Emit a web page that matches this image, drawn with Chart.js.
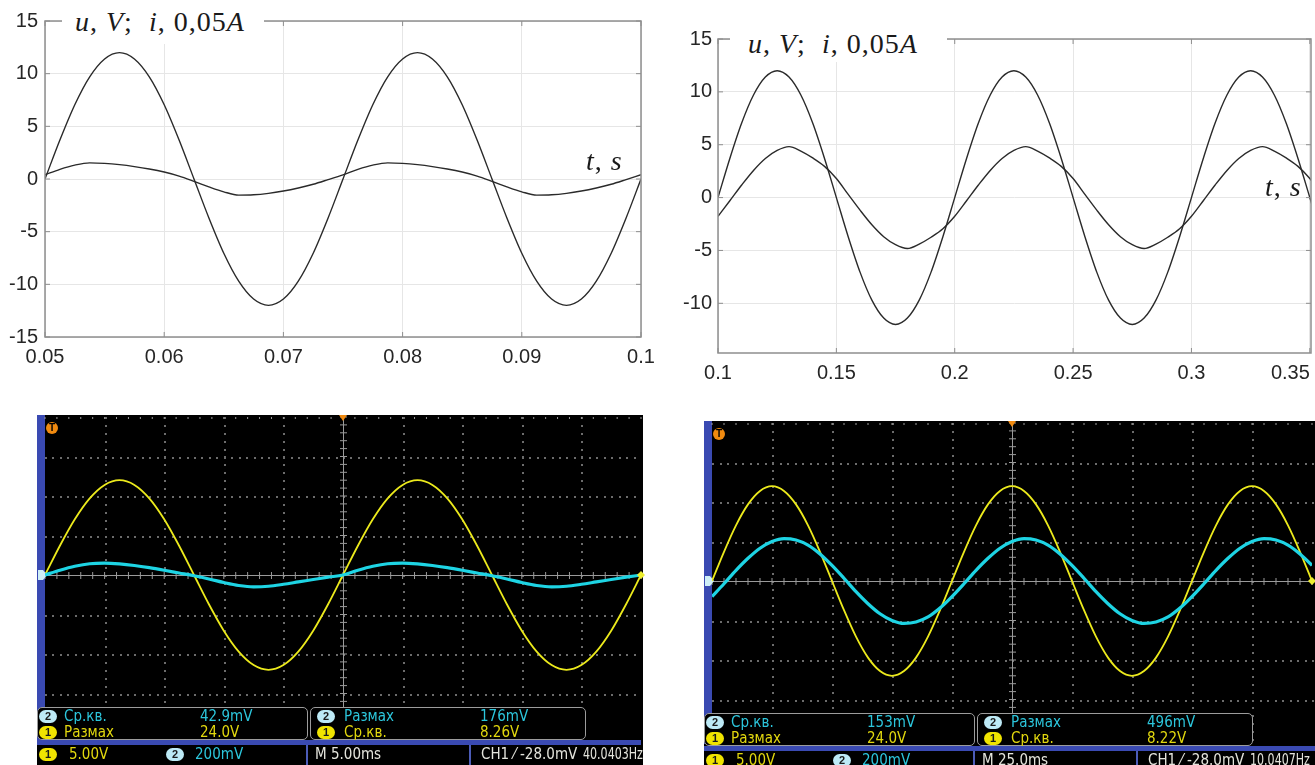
<!DOCTYPE html>
<html>
<head>
<meta charset="utf-8">
<script src="https://cdn.jsdelivr.net/npm/chart.js@4.4.1/dist/chart.umd.min.js"></script>
<style>
  html, body { margin: 0; padding: 0; background: #fff; }
  body { position: relative; width: 1315px; height: 765px; overflow: hidden; }
  canvas { position: absolute; }
  .mask { position: absolute; background: #fff; }
  .lbl { position: absolute; font-family: "Liberation Serif", "Times New Roman", serif; font-size: 28px; line-height: 28px; color: #1a1a1a; white-space: nowrap; letter-spacing: 1px; }
  .box { position: absolute; box-sizing: border-box; border: 1px solid #9c9c9c; border-radius: 5px; background: #000; }
  .bar { position: absolute; background: #3a4ab2; }
  .sep { position: absolute; background: #4c5cb8; }
  .rd, .ft { position: absolute; white-space: nowrap; font-family: "Liberation Sans Narrow", "Arial Narrow", "DejaVu Sans Condensed", sans-serif; }
  .rd { font-size: 15px; line-height: 16px; }
  .ft { font-size: 15px; line-height: 18px; }
  .hz { transform: scaleX(0.82); transform-origin: left center; }
  .bd { position: absolute; width: 18px; height: 13px; border-radius: 7px; font: bold 11px/13px "Liberation Sans", Arial, sans-serif; color: #1a1a1a; text-align: center; }
  .c1 { background: #f0e400; }
  .c2 { background: #bdeaf6; }
  .ty { color: #e2d80e; }
  .tc { color: #2cc6dc; }
  .tw { color: #e4e4dc; }
</style>
</head>
<body>
<canvas id="plotA" width="660" height="385" style="left:0;top:0"></canvas>
<canvas id="plotB" width="655" height="395" style="left:660px;top:0"></canvas>
<canvas id="scopeA" width="660" height="365" style="left:0;top:400px"></canvas>
<canvas id="scopeB" width="625" height="365" style="left:690px;top:400px"></canvas>

<div class="mask" style="left:62px;top:0;width:202px;height:44px"></div>
<div class="lbl" style="left:75px;top:8px"><i>u</i>, <i>V</i>;&nbsp; <i>i</i>, 0,05<i>A</i></div>
<div class="lbl" style="left:586px;top:147px"><i>t</i>, <i>s</i></div>
<div class="mask" style="left:730px;top:20px;width:217px;height:42px"></div>
<div class="lbl" style="left:748px;top:30px"><i>u</i>, <i>V</i>;&nbsp; <i>i</i>, 0,05<i>A</i></div>
<div class="lbl" style="left:1265px;top:173px"><i>t</i>, <i>s</i></div>

<script>
// top left: model, 40 Hz
var tA = [0.05, 0.05125, 0.0525, 0.05375, 0.055, 0.05625, 0.0575, 0.05875, 0.06, 0.06125,
          0.0625, 0.06375, 0.065, 0.06625, 0.0675, 0.06875, 0.07, 0.07125, 0.0725, 0.07375,
          0.075, 0.07625, 0.0775, 0.07875, 0.08, 0.08125, 0.0825, 0.08375, 0.085, 0.08625,
          0.0875, 0.08875, 0.09, 0.09125, 0.0925, 0.09375, 0.095, 0.09625, 0.0975, 0.09875, 0.1];
var uA = [0, 3.7, 7.05, 9.7, 11.4, 12, 11.4, 9.7, 7.05, 3.7,
          0, -3.7, -7.05, -9.7, -11.4, -12, -11.4, -9.7, -7.05, -3.7,
          0, 3.7, 7.05, 9.7, 11.4, 12, 11.4, 9.7, 7.05, 3.7,
          0, -3.7, -7.05, -9.7, -11.4, -12, -11.4, -9.7, -7.05, -3.7, 0];
var iA = [0.40, 0.92, 1.32, 1.53, 1.48, 1.36, 1.18, 0.95, 0.66, 0.28,
          -0.22, -0.75, -1.22, -1.53, -1.50, -1.36, -1.14, -0.85, -0.50, -0.06,
          0.40, 0.92, 1.32, 1.53, 1.48, 1.36, 1.18, 0.95, 0.66, 0.28,
          -0.22, -0.75, -1.22, -1.53, -1.50, -1.36, -1.14, -0.85, -0.50, -0.06, 0.40];
var xTicksA = [0.05, 0.06, 0.07, 0.08, 0.09, 0.1];
var xLabelsA = ['0.05', '0.06', '0.07', '0.08', '0.09', '0.1'];
var yTicksA = [-15, -10, -5, 0, 5, 10, 15];

// top right: model, 10 Hz
var tB = [0.1, 0.105, 0.11, 0.115, 0.12, 0.125, 0.13, 0.135, 0.14, 0.145,
          0.15, 0.155, 0.16, 0.165, 0.17, 0.175, 0.18, 0.185, 0.19, 0.195,
          0.2, 0.205, 0.21, 0.215, 0.22, 0.225, 0.23, 0.235, 0.24, 0.245,
          0.25, 0.255, 0.26, 0.265, 0.27, 0.275, 0.28, 0.285, 0.29, 0.295,
          0.3, 0.305, 0.31, 0.315, 0.32, 0.325, 0.33, 0.335, 0.34, 0.345, 0.35, 0.355];
var uB = [0, 3.7, 7.05, 9.7, 11.4, 12, 11.4, 9.7, 7.05, 3.7,
          0, -3.7, -7.05, -9.7, -11.4, -12, -11.4, -9.7, -7.05, -3.7,
          0, 3.7, 7.05, 9.7, 11.4, 12, 11.4, 9.7, 7.05, 3.7,
          0, -3.7, -7.05, -9.7, -11.4, -12, -11.4, -9.7, -7.05, -3.7,
          0, 3.7, 7.05, 9.7, 11.4, 12, 11.4, 9.7, 7.05, 3.7, 0, -3.7];
var iB = [-1.77, -0.30, 1.19, 2.57, 3.70, 4.46, 4.82, 4.40, 3.75, 2.95,
          1.80, 0.30, -1.19, -2.57, -3.70, -4.46, -4.82, -4.40, -3.75, -2.95,
          -1.77, -0.30, 1.19, 2.57, 3.70, 4.46, 4.82, 4.40, 3.75, 2.95,
          1.80, 0.30, -1.19, -2.57, -3.70, -4.46, -4.82, -4.40, -3.75, -2.95,
          -1.77, -0.30, 1.19, 2.57, 3.70, 4.46, 4.82, 4.40, 3.75, 2.95, 1.80, 0.30];
var xTicksB = [0.1, 0.15, 0.2, 0.25, 0.3, 0.35];
var xLabelsB = ['0.1', '0.15', '0.2', '0.25', '0.3', '0.35'];
var yTicksB = [-10, -5, 0, 5, 10, 15];

// bottom left: scope, time in ms, CH1 in V, CH2 in mV
var tC = [0, 1.25, 2.5, 3.75, 5, 6.25, 7.5, 8.75, 10, 11.25,
          12.5, 13.75, 15, 16.25, 17.5, 18.75, 20, 21.25, 22.5, 23.75,
          25, 26.25, 27.5, 28.75, 30, 31.25, 32.5, 33.75, 35, 36.25,
          37.5, 38.75, 40, 41.25, 42.5, 43.75, 45, 46.25, 47.5, 48.75, 50];
var ch1C = [0, 3.7, 7.05, 9.7, 11.4, 12, 11.4, 9.7, 7.05, 3.7,
            0, -3.7, -7.05, -9.7, -11.4, -12, -11.4, -9.7, -7.05, -3.7,
            0, 3.7, 7.05, 9.7, 11.4, 12, 11.4, 9.7, 7.05, 3.7,
            0, -3.7, -7.05, -9.7, -11.4, -12, -11.4, -9.7, -7.05, -3.7, 0];
var ch2C = [0, 24, 44, 57, 60, 56, 48, 37, 24, 10,
            -4, -20, -38, -53, -60, -57, -47, -35, -23, -11,
            0, 24, 44, 57, 60, 56, 48, 37, 24, 10,
            -4, -20, -38, -53, -60, -57, -47, -35, -23, -11, 0];

// bottom right: scope
var tD = [0, 5, 10, 15, 20, 25, 30, 35, 40, 45,
          50, 55, 60, 65, 70, 75, 80, 85, 90, 95,
          100, 105, 110, 115, 120, 125, 130, 135, 140, 145,
          150, 155, 160, 165, 170, 175, 180, 185, 190, 195,
          200, 205, 210, 215, 220, 225, 230, 235, 240, 245, 250, 255];
var ch1D = [0, 3.7, 7.05, 9.7, 11.4, 12, 11.4, 9.7, 7.05, 3.7,
            0, -3.7, -7.05, -9.7, -11.4, -12, -11.4, -9.7, -7.05, -3.7,
            0, 3.7, 7.05, 9.7, 11.4, 12, 11.4, 9.7, 7.05, 3.7,
            0, -3.7, -7.05, -9.7, -11.4, -12, -11.4, -9.7, -7.05, -3.7,
            0, 3.7, 7.05, 9.7, 11.4, 12, 11.4, 9.7, 7.05, 3.7, 0, -3.7];
var ch2D = [-79, -14, 54, 115, 166, 200, 215, 208, 182, 137,
            79, 14, -54, -115, -166, -200, -215, -208, -182, -137,
            -79, -14, 54, 115, 166, 200, 215, 208, 182, 137,
            79, 14, -54, -115, -166, -200, -215, -208, -182, -137,
            -79, -14, 54, 115, 166, 200, 215, 208, 182, 137, 79, 14];

Chart.defaults.font.family = '"Liberation Sans", Arial, sans-serif';
Chart.defaults.animation = false;

function pts(xs, ys) {
  return xs.map(function (x, i) { return { x: x, y: ys[i] }; });
}

// box + inward tick marks like matlab
var frame = {
  id: 'frame',
  afterDraw: function (chart) {
    var ctx = chart.ctx, a = chart.chartArea, sx = chart.scales.x, sy = chart.scales.y;
    ctx.save();
    ctx.strokeStyle = '#8e8e8e';
    ctx.lineWidth = 1.5;
    ctx.strokeRect(a.left, a.top, a.right - a.left, a.bottom - a.top);
    ctx.lineWidth = 1;
    ctx.beginPath();
    sx.ticks.forEach(function (t) {
      var x = sx.getPixelForValue(t.value);
      ctx.moveTo(x, a.bottom); ctx.lineTo(x, a.bottom - 5);
      ctx.moveTo(x, a.top); ctx.lineTo(x, a.top + 5);
    });
    sy.ticks.forEach(function (t) {
      var y = sy.getPixelForValue(t.value);
      ctx.moveTo(a.left, y); ctx.lineTo(a.left + 5, y);
      ctx.moveTo(a.right, y); ctx.lineTo(a.right - 5, y);
    });
    ctx.stroke();
    ctx.restore();
  }
};

function modelChart(id, t, u, i, o) {
  return new Chart(document.getElementById(id), {
    type: 'line',
    data: {
      datasets: [
        { data: pts(t, u), borderColor: '#2a2a2a', borderWidth: 1.4, pointRadius: 0, cubicInterpolationMode: 'monotone' },
        { data: pts(t, i), borderColor: '#2a2a2a', borderWidth: 1.4, pointRadius: 0, cubicInterpolationMode: 'monotone' }
      ]
    },
    options: {
      responsive: false,
      layout: { padding: { top: o.top, right: o.right, left: 0, bottom: 0 } },
      plugins: { legend: { display: false }, tooltip: { enabled: false } },
      scales: {
        x: {
          type: 'linear', min: o.xmin, max: o.xmax,
          afterBuildTicks: function (s) { s.ticks = o.xTicks.map(function (v) { return { value: v }; }); },
          afterFit: function (s) { s.height = o.xh; s.paddingLeft = 0; s.paddingRight = 0; },
          grid: { color: '#e6e6e6', drawTicks: false },
          border: { display: false },
          ticks: {
            padding: 8, autoSkip: false, maxRotation: 0, color: '#262626', font: { size: 20 },
            // last label of the right plot sits at the page edge, pad it so it stays visible
            callback: function (v, k, arr) { return o.xLabels[k] + (o.lastPad && k === arr.length - 1 ? '\u00a0\u00a0\u00a0\u00a0\u00a0\u00a0\u00a0' : ''); }
          }
        },
        y: {
          min: o.ymin, max: 15,
          afterBuildTicks: function (s) { s.ticks = o.yTicks.map(function (v) { return { value: v }; }); },
          afterFit: function (s) { s.width = o.yw; },
          grid: { color: '#e6e6e6', drawTicks: false },
          border: { display: false },
          ticks: { padding: o.yp, color: '#262626', font: { size: 20 }, callback: function (v) { return String(v); } }
        }
      }
    },
    plugins: [frame]
  });
}

modelChart('plotA', tA, uA, iA, { top: 21, right: 19, xmin: 0.05, xmax: 0.1, xTicks: xTicksA, xLabels: xLabelsA, yTicks: yTicksA, ymin: -15, xh: 48, yw: 45, yp: 7 });
modelChart('plotB', tB, uB, iB, { top: 39, right: 4, xmin: 0.1, xmax: 0.3505, xTicks: xTicksB, xLabels: xLabelsB, yTicks: yTicksB, ymin: -14.7, xh: 42, yw: 58, yp: 6, lastPad: true });

// oscilloscope screen: black field, dotted graticule, markers
var screen = {
  id: 'screen',
  beforeDraw: function (chart, args, o) {
    var ctx = chart.ctx, a = chart.chartArea;
    var dw = (a.right - a.left) / 10, dh = (a.bottom - a.top) / 8;
    var cx = a.left + 5 * dw, cy = a.top + 4 * dh;
    ctx.save();
    ctx.fillStyle = '#000';
    ctx.fillRect(o.x0, o.y0, o.x1 - o.x0, chart.height - o.y0);
    ctx.fillStyle = '#3a4ab2';
    ctx.fillRect(o.x0, o.y0, a.left - o.x0, o.barEnd - o.y0);
    ctx.fillStyle = '#6c6c6c';
    for (var i = 1; i < 10; i++) {
      if (i === 5) continue;
      var x = Math.round(a.left + i * dw);
      for (var y = a.top; y <= a.bottom; y += dh / 5) ctx.fillRect(x, Math.round(y), 2, 2);
    }
    for (var j = 1; j < 8; j++) {
      if (j === 4) continue;
      var yy = Math.round(a.top + j * dh);
      for (var xx = a.left; xx <= a.right; xx += dw / 8) ctx.fillRect(Math.round(xx), yy, 2, 2);
    }
    ctx.strokeStyle = '#9a9a9a';
    ctx.lineWidth = 1;
    ctx.beginPath();
    ctx.moveTo(Math.round(cx) + 0.5, a.top); ctx.lineTo(Math.round(cx) + 0.5, a.bottom);
    ctx.moveTo(a.left, Math.round(cy) + 0.5); ctx.lineTo(a.right, Math.round(cy) + 0.5);
    for (var k = 0; k <= 40; k++) {
      var ty = a.top + k * dh / 5;
      ctx.moveTo(cx - 3, ty); ctx.lineTo(cx + 4, ty);
    }
    for (var m = 0; m <= 50; m++) {
      var tx = a.left + m * dw / 5;
      ctx.moveTo(tx, cy - 3); ctx.lineTo(tx, cy + 4);
      ctx.moveTo(tx, a.top); ctx.lineTo(tx, a.top + 2);
    }
    ctx.stroke();
    // trigger position
    ctx.fillStyle = '#f08a10';
    ctx.beginPath();
    ctx.moveTo(cx - 4, a.top - 2); ctx.lineTo(cx + 4, a.top - 2); ctx.lineTo(cx, a.top + 4);
    ctx.fill();
    ctx.beginPath();
    ctx.arc(a.left + 7, a.top + 11, 6, 0, Math.PI * 2);
    ctx.fill();
    ctx.fillStyle = '#000';
    ctx.font = 'bold 10px "Liberation Sans", Arial, sans-serif';
    ctx.textAlign = 'center';
    ctx.textBaseline = 'middle';
    ctx.fillText('T', a.left + 7, a.top + 11);
    // ground marker
    ctx.fillStyle = '#cfeff6';
    ctx.beginPath();
    ctx.moveTo(a.left - 7, cy - 5); ctx.lineTo(a.left - 2, cy - 5); ctx.lineTo(a.left + 2, cy);
    ctx.lineTo(a.left - 2, cy + 5); ctx.lineTo(a.left - 7, cy + 5);
    ctx.fill();
    ctx.restore();
  },
  afterDraw: function (chart) {
    var ctx = chart.ctx, a = chart.chartArea, cy = (a.top + a.bottom) / 2;
    ctx.save();
    ctx.fillStyle = '#eeee30';
    ctx.beginPath();
    ctx.moveTo(a.right - 4, cy); ctx.lineTo(a.right, cy - 4); ctx.lineTo(a.right + 4, cy); ctx.lineTo(a.right, cy + 4);
    ctx.fill();
    ctx.restore();
  }
};

function scopeChart(id, t, ch1, ch2, o) {
  return new Chart(document.getElementById(id), {
    type: 'line',
    data: {
      datasets: [
        { data: pts(t, ch2), yAxisID: 'y2', borderColor: '#1ed4e4', borderWidth: 3.2, pointRadius: 0, cubicInterpolationMode: 'monotone' },
        { data: pts(t, ch1), yAxisID: 'y', borderColor: '#ecea1c', borderWidth: 1.8, pointRadius: 0, cubicInterpolationMode: 'monotone' }
      ]
    },
    options: {
      responsive: false,
      layout: { padding: o.pad },
      plugins: { legend: { display: false }, tooltip: { enabled: false }, screen: o.screen },
      scales: {
        x: { type: 'linear', display: false, min: 0, max: o.tmax },
        y: { display: false, min: -20, max: 20 },
        y2: { display: false, min: -800, max: 800 }
      }
    },
    plugins: [screen]
  });
}

scopeChart('scopeA', tC, ch1C, ch2C, { tmax: 50, pad: { left: 45, right: 19, top: 17, bottom: 32 }, screen: { x0: 37, y0: 15, x1: 643, barEnd: 340 } });
scopeChart('scopeB', tD, ch1D, ch2D, { tmax: 250, pad: { left: 22, right: 3, top: 23, bottom: 26 }, screen: { x0: 14, y0: 21, x1: 625, barEnd: 344 } });

// readout panels under the screens
function put(cls, x, y, w, h, txt) {
  var el = document.createElement('div');
  el.className = cls;
  el.style.left = x + 'px';
  el.style.top = y + 'px';
  if (w) el.style.width = w + 'px';
  if (h) el.style.height = h + 'px';
  if (txt) el.textContent = txt;
  document.body.appendChild(el);
}

function readout(dx, dy, w, meas, foot) {
  put('box', dx + 37, dy + 707, 271, 33);
  put('box', dx + 310, dy + 707, 276, 33);
  put('bar', dx + 37, dy + 740, w, 5);
  put('sep', dx + 306, dy + 745, 2, 20);
  put('sep', dx + 469, dy + 745, 2, 20);
  [[39, 64, 200], [317, 344, 480]].forEach(function (c, k) {
    put('bd c2', dx + c[0], dy + 710, 0, 0, '2');
    put('rd tc', dx + c[1], dy + 708, 0, 0, meas[k][0]);
    put('rd tc', dx + c[2], dy + 708, 0, 0, meas[k][1]);
    put('bd c1', dx + c[0], dy + 726, 0, 0, '1');
    put('rd ty', dx + c[1], dy + 724, 0, 0, meas[k][2]);
    put('rd ty', dx + c[2], dy + 724, 0, 0, meas[k][3]);
  });
  put('bd c1', dx + 39, dy + 748, 0, 0, '1');
  put('ft ty', dx + 69, dy + 745, 0, 0, foot[0]);
  put('bd c2', dx + 166, dy + 748, 0, 0, '2');
  put('ft tc', dx + 195, dy + 745, 0, 0, foot[1]);
  put('ft tw', dx + 315, dy + 745, 0, 0, foot[2]);
  put('ft tw', dx + 481, dy + 745, 0, 0, foot[3]);
  put('ft tw hz', dx + 583, dy + 745, 0, 0, foot[4]);
}

readout(0, 0, 604,
  [['Ср.кв.', '42.9mV', 'Размах', '24.0V'], ['Размах', '176mV', 'Ср.кв.', '8.26V']],
  ['5.00V', '200mV', 'M 5.00ms', 'CH1 \u2044 -28.0mV', '40.0403Hz']);
readout(667, 6, 611,
  [['Ср.кв.', '153mV', 'Размах', '24.0V'], ['Размах', '496mV', 'Ср.кв.', '8.22V']],
  ['5.00V', '200mV', 'M 25.0ms', 'CH1 \u2044 -28.0mV', '10.0407Hz']);
</script>
</body>
</html>
